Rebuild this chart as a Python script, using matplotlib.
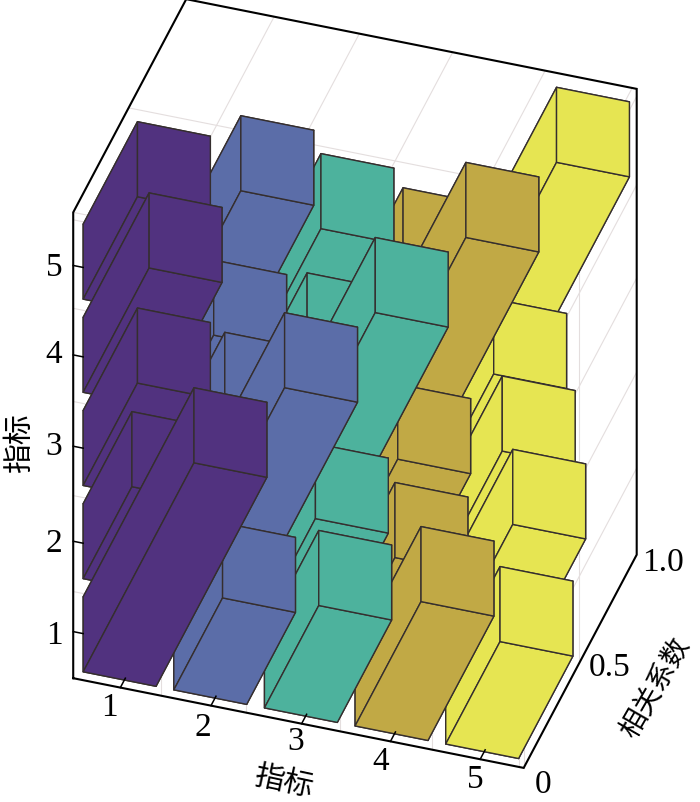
import matplotlib
matplotlib.use('Agg')
from matplotlib import pyplot as plt

# 指标编号与相关系数矩阵
indicators = [1, 2, 3, 4, 5]
row1 = [1.0, 0.44, 0.49, 0.595, 0.49]
row2 = [0.44, 1.0, 0.46, 0.36, 0.605]
row3 = [0.49, 0.46, 1.0, 0.385, 0.51]
row4 = [0.595, 0.36, 0.385, 1.0, 0.433]
row5 = [0.49, 0.605, 0.51, 0.433, 1.0]
corr = [row1, row2, row3, row4, row5]

colors = ['#51327F', '#5B6DA8', '#4DB29D', '#C1A945', '#E6E552']
grid_color = '#E4DEDE'
edge_color = '#352E2E'

# 坐标范围
xmin, xmax = 0.48, 5.45
ymin, ymax = 0.0, 1.02
zmin, zmax = 0.5, 5.5

# 刻度与网格的位置（原图刻度并不完全对齐柱子）
x_ticks = [1, 2, 3, 3.98, 4.97]
z_ticks = [1.0, 1.97, 2.99, 3.97, 4.93]
x_grid = [1.45, 2.39, 3.42, 4.44, 5.4]
z_grid = [1.43, 2.46, 3.47, 4.47, 5.42]

W, H = 700, 803
fig = plt.figure(figsize=(W / 100, H / 100), dpi=100)
ax = fig.add_axes([-4.5 / W, 59 / H, 1, W / H], projection='3d', computed_zorder=False)
ax.set_proj_type('ortho')
ax.view_init(elev=-37.8, azim=-108.0)
ax.set_box_aspect((474, 366, 590), zoom=1.165)
ax.set_xlim(xmin, xmax)
ax.set_ylim(ymax, ymin)
ax.set_zlim(zmin, zmax)
ax.set_axis_off()


def line3d(xs, ys, zs, **kw):
    ax.plot(xs, ys, zs, clip_on=False, **kw)


# 背景网格
grid_kw = dict(color=grid_color, lw=0.8, zorder=1)
for g in x_grid:
    line3d([g, g], [ymin, ymax], [zmax, zmax], **grid_kw)
    line3d([g, g], [ymin, ymin], [zmin, zmax], **grid_kw)
for g in z_grid:
    line3d([xmin, xmax], [ymin, ymin], [g, g], **grid_kw)
    line3d([xmax, xmax], [ymin, ymax], [g, g], **grid_kw)
line3d([xmin, xmax], [0.5, 0.5], [zmax, zmax], **grid_kw)
line3d([xmax, xmax], [0.5, 0.5], [zmin, zmax], **grid_kw)
line3d([xmax, xmax], [ymin, ymin], [zmin, zmax], **grid_kw)
line3d([xmin, xmax], [ymin, ymin], [zmax, zmax], **grid_kw)

# 柱子：从远到近依次绘制
order = 10
for c in reversed(range(5)):
    for r in reversed(range(5)):
        bar = ax.bar3d(indicators[c] - 0.41, 0, indicators[r] - 0.41, 0.804, corr[c][r], 0.805,
                       color=colors[c], edgecolor=edge_color, linewidth=1.0,
                       shade=False, zorder=order)
        bar.set_clip_on(False)
        order += 1

# 外框
box_kw = dict(color='black', lw=1.5, zorder=100, solid_joinstyle='miter')
line3d([xmin, xmax, xmax, xmax, xmin, xmin, xmin],
       [ymin, ymin, ymax, ymax, ymax, ymin, ymin],
       [zmin, zmin, zmin, zmax, zmax, zmax, zmin], **box_kw)

# 刻度线
tick_kw = dict(color='black', lw=1.1, zorder=100)
for v in x_ticks:
    line3d([v, v], [ymin, 0.045], [zmin, zmin], **tick_kw)
for v in z_ticks:
    line3d([xmin, xmin + 0.11], [ymin, ymin], [v, v], **tick_kw)

# 刻度文字
serif = 'Liberation Serif'
x_label_pos = [(109, 708), (203, 728), (296, 742), (381, 762), (475, 780)]
z_label_pos = [(54, 636), (54, 544), (54, 447), (54, 355), (54, 268)]
y_labels = ['0', '0.5', '1.0']
y_label_pos = [(543, 785), (610, 668), (663, 563)]


def pix_text(px, py, s, **kw):
    fig.text(px / W, 1 - py / H, s, ha='center', va='center', **kw)


for v, (px, py) in zip(indicators, x_label_pos):
    pix_text(px, py, str(v), family=serif, fontsize=24)
for v, (px, py) in zip(indicators, z_label_pos):
    pix_text(px, py, str(v), family=serif, fontsize=24)
for s, (px, py) in zip(y_labels, y_label_pos):
    pix_text(px, py, s, family=serif, fontsize=24)

# 轴标题
cjk = ['Noto Sans CJK SC', 'DejaVu Sans']
pix_text(20, 443, '指标', family=cjk, fontsize=21.5, rotation=90, fontweight='light')
pix_text(283, 782, '指标', family=cjk, fontsize=21.5, rotation=-12, fontweight='light')
pix_text(655, 688, '相关系数', family=cjk, fontsize=20, rotation=60, fontweight='light')

fig.savefig('out.png', dpi=100)
